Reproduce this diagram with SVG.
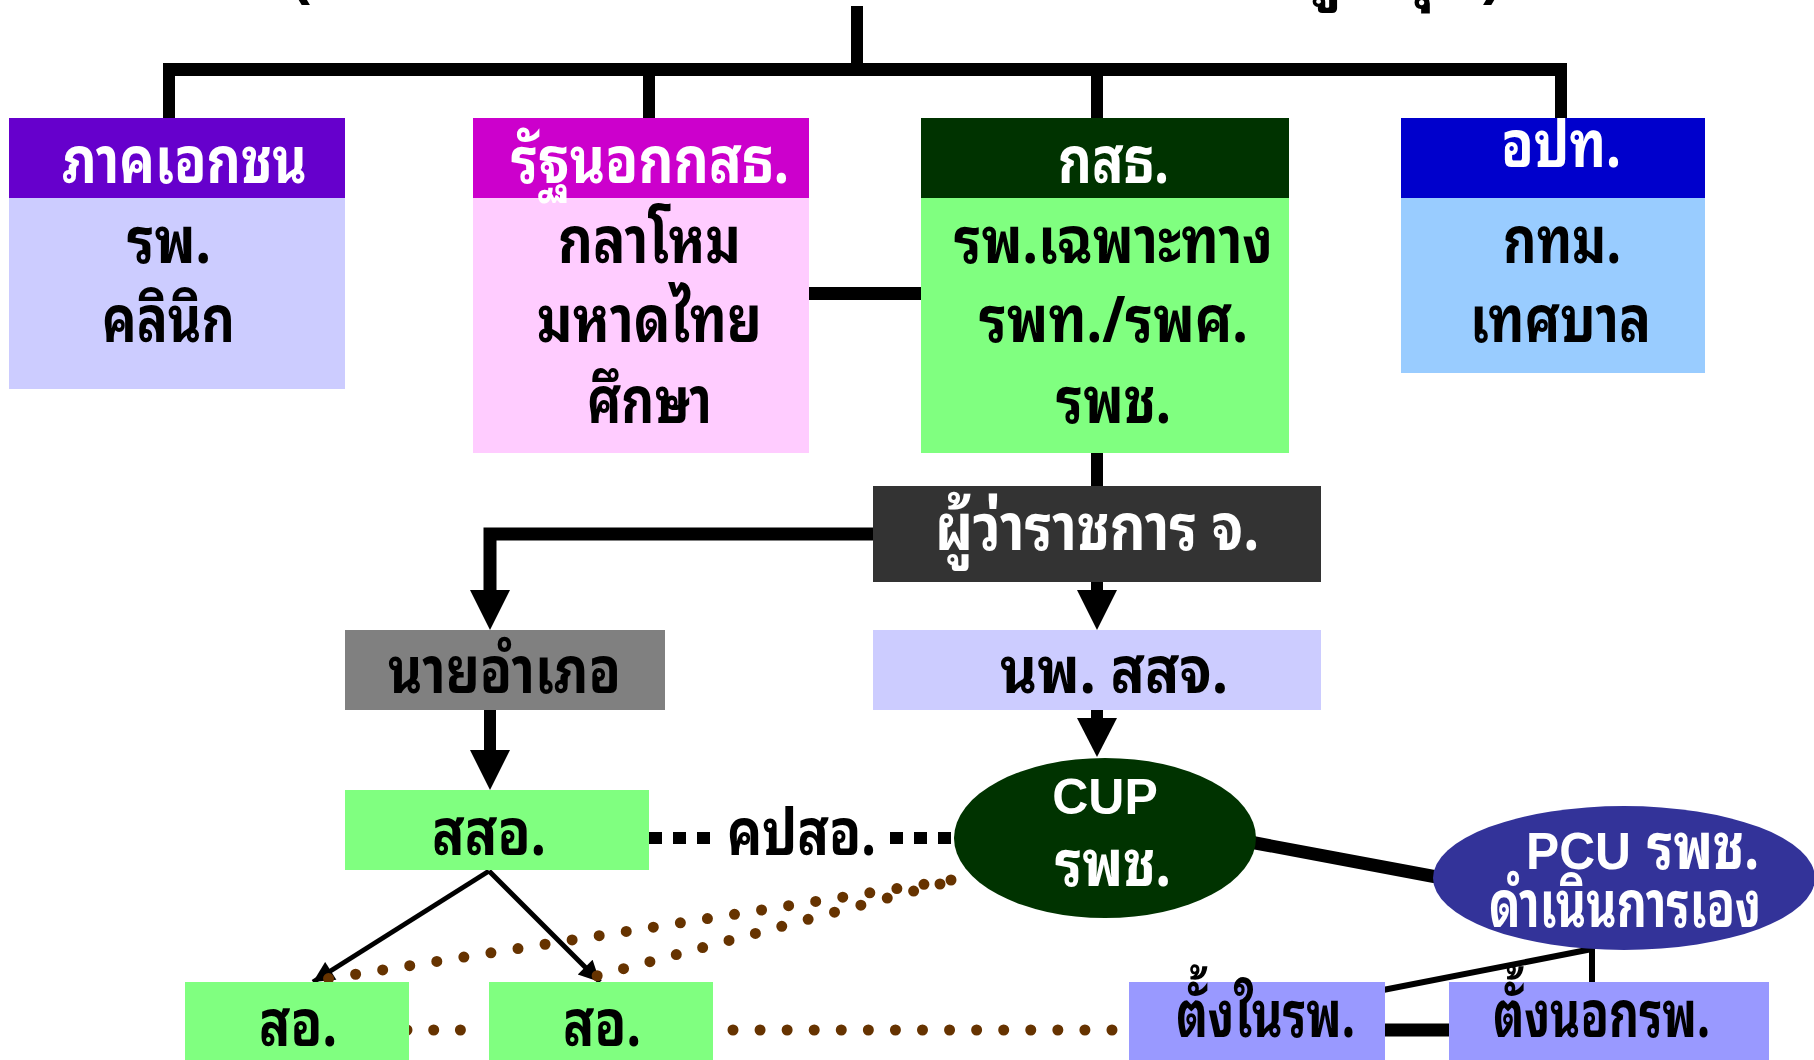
<svg xmlns="http://www.w3.org/2000/svg" width="1814" height="1060" viewBox="0 0 1814 1060">
<defs>
<style>
.th{font-family:"Noto Sans Thai Looped","Noto Serif Thai","Norasi","Loma","Garuda","Noto Sans Thai","DejaVu Sans",sans-serif;font-weight:bold;font-size:64px;}
.w{fill:#FFFFFF;}
.k{fill:#000000;}
.lat{font-family:"Liberation Sans",Arial,sans-serif;font-weight:bold;fill:#FFFFFF;}
.bar{stroke:#000;fill:none;}
.dot{stroke:#663300;stroke-width:11;stroke-linecap:round;fill:none;}
</style>
<marker id="ah" viewBox="0 0 10 10" refX="10" refY="5" markerWidth="4.6" markerHeight="4.2" markerUnits="strokeWidth" orient="auto">
<path d="M0,0 L10,5 L0,10 z" fill="#000"/>
</marker>
</defs>

<g id="title-fragment">
<text x="290" y="-7" font-family="Liberation Sans,sans-serif" font-weight="bold" font-size="60" fill="#000">(</text>
<text x="1483" y="-7" font-family="Liberation Sans,sans-serif" font-weight="bold" font-size="60" fill="#000">)</text>
<text class="th k" x="1300" y="-8" font-size="60">ภู</text>
<text class="th k" x="1392" y="-8" font-size="60">ปุ</text>
</g>

<g id="connectors">
<line class="bar" x1="857" y1="6" x2="857" y2="70" stroke-width="12"/>
<line class="bar" x1="163" y1="69.5" x2="1567" y2="69.5" stroke-width="13"/>
<line class="bar" x1="169" y1="70" x2="169" y2="120" stroke-width="12"/>
<line class="bar" x1="649" y1="70" x2="649" y2="120" stroke-width="12"/>
<line class="bar" x1="1097" y1="70" x2="1097" y2="120" stroke-width="12"/>
<line class="bar" x1="1561" y1="70" x2="1561" y2="120" stroke-width="12"/>
<line class="bar" x1="805" y1="293.5" x2="925" y2="293.5" stroke-width="13"/>
<line class="bar" x1="1097" y1="450" x2="1097" y2="490" stroke-width="12"/>
<path class="bar" d="M876,534 H490 V595" stroke-width="13"/>
<polygon points="470,590 510,590 490,630" fill="#000"/>
<line class="bar" x1="1097" y1="580" x2="1097" y2="595" stroke-width="12"/>
<polygon points="1077,590 1117,590 1097,630" fill="#000"/>
<line class="bar" x1="490" y1="708" x2="490" y2="755" stroke-width="12"/>
<polygon points="470,750 510,750 490,790" fill="#000"/>
<line class="bar" x1="1097" y1="708" x2="1097" y2="722" stroke-width="12"/>
<polygon points="1077,718 1117,718 1097,757" fill="#000"/>
<line x1="489" y1="871" x2="313" y2="982" stroke="#000" stroke-width="5" marker-end="url(#ah)"/>
<line x1="489" y1="871" x2="600" y2="982" stroke="#000" stroke-width="5" marker-end="url(#ah)"/>
<line x1="649" y1="838" x2="713" y2="838" stroke="#000" stroke-width="12" stroke-dasharray="13 11"/>
<line x1="890" y1="838" x2="954" y2="838" stroke="#000" stroke-width="12" stroke-dasharray="13 11"/>
<line class="bar" x1="1250" y1="842" x2="1442" y2="878" stroke-width="13"/>
<line class="bar" x1="1592" y1="945" x2="1592" y2="984" stroke-width="6"/>
<line class="bar" x1="1592" y1="949" x2="1383" y2="990" stroke-width="6"/>
<line class="bar" x1="1383" y1="1030" x2="1451" y2="1030" stroke-width="13"/>
<line class="dot" x1="951" y1="880" x2="313" y2="981" stroke-dasharray="0 27.4"/>
<line class="dot" x1="940" y1="884" x2="585" y2="979" stroke-dasharray="0 27.3"/>
<line class="dot" x1="407" y1="1030" x2="487" y2="1030" stroke-dasharray="0 26.7"/>
<line class="dot" x1="733" y1="1030" x2="1112" y2="1030" stroke-dasharray="0 27.07"/>
</g>

<g id="private">
<rect x="9" y="118" width="336" height="80" fill="#6600CC"/>
<rect x="9" y="198" width="336" height="191" fill="#CCCCFF"/>
<text class="th w" x="62" y="183" textLength="245" lengthAdjust="spacingAndGlyphs">ภาคเอกชน</text>
<text class="th k" x="127" y="263" textLength="84" lengthAdjust="spacingAndGlyphs">รพ.</text>
<text class="th k" x="102" y="342" textLength="133" lengthAdjust="spacingAndGlyphs">คลินิก</text>
</g>

<g id="state-other">
<rect x="473" y="118" width="336" height="80" fill="#CC00CC"/>
<rect x="473" y="198" width="336" height="255" fill="#FFCCFF"/>
<text class="th w" x="511" y="183" textLength="278" lengthAdjust="spacingAndGlyphs">รัฐนอกกสธ.</text>
<text class="th k" x="558" y="263" textLength="183" lengthAdjust="spacingAndGlyphs">กลาโหม</text>
<text class="th k" x="537" y="342" textLength="225" lengthAdjust="spacingAndGlyphs">มหาดไทย</text>
<text class="th k" x="587" y="423" textLength="125" lengthAdjust="spacingAndGlyphs">ศึกษา</text>
</g>

<g id="moph">
<rect x="921" y="118" width="368" height="80" fill="#003300"/>
<rect x="921" y="198" width="368" height="255" fill="#80FF80"/>
<text class="th w" x="1058" y="183" textLength="111" lengthAdjust="spacingAndGlyphs">กสธ.</text>
<text class="th k" x="954" y="263" textLength="319" lengthAdjust="spacingAndGlyphs">รพ.เฉพาะทาง</text>
<text class="th k" x="979" y="342" textLength="269" lengthAdjust="spacingAndGlyphs">รพท./รพศ.</text>
<text class="th k" x="1056" y="423" textLength="115" lengthAdjust="spacingAndGlyphs">รพช.</text>
</g>

<g id="local-gov">
<rect x="1401" y="118" width="304" height="80" fill="#0000CC"/>
<rect x="1401" y="198" width="304" height="175" fill="#99CCFF"/>
<text class="th w" x="1501" y="167" textLength="120" lengthAdjust="spacingAndGlyphs">อปท.</text>
<text class="th k" x="1503" y="263" textLength="118" lengthAdjust="spacingAndGlyphs">กทม.</text>
<text class="th k" x="1470" y="342" textLength="181" lengthAdjust="spacingAndGlyphs">เทศบาล</text>
</g>

<g id="governor">
<rect x="873" y="486" width="448" height="96" fill="#333333"/>
<text class="th w" x="935" y="550" textLength="324" lengthAdjust="spacingAndGlyphs">ผู้ว่าราชการ จ.</text>
</g>

<g id="district-chief">
<rect x="345" y="630" width="320" height="80" fill="#808080"/>
<text class="th k" x="388" y="693" textLength="233" lengthAdjust="spacingAndGlyphs">นายอำเภอ</text>
</g>

<g id="provincial-health">
<rect x="873" y="630" width="448" height="80" fill="#CCCCFF"/>
<text class="th k" x="1000" y="693" textLength="228" lengthAdjust="spacingAndGlyphs">นพ. สสจ.</text>
</g>

<g id="district-health">
<rect x="345" y="790" width="304" height="80" fill="#80FF80"/>
<text class="th k" x="432" y="855" textLength="114" lengthAdjust="spacingAndGlyphs">สสอ.</text>
</g>

<g id="kpso-label">
<text class="th k" x="727" y="855" font-weight="normal" textLength="149" lengthAdjust="spacingAndGlyphs">คปสอ.</text>
</g>

<g id="cup">
<ellipse cx="1105" cy="838" rx="151" ry="80" fill="#003300"/>
<text class="lat" x="1105" y="814" font-size="50" text-anchor="middle">CUP</text>
<text class="th w" x="1055" y="886" textLength="116" lengthAdjust="spacingAndGlyphs">รพช.</text>
</g>

<g id="pcu">
<ellipse cx="1624" cy="878" rx="191" ry="72" fill="#333399"/>
<text class="lat" x="1526" y="869" font-size="51" textLength="105" lengthAdjust="spacingAndGlyphs">PCU</text>
<text class="th w" x="1647" y="869" font-weight="normal" textLength="112" lengthAdjust="spacingAndGlyphs">รพช.</text>
<text class="th w" x="1489" y="927" font-size="48" textLength="272" lengthAdjust="spacingAndGlyphs">ดำเนินการเอง</text>
</g>

<g id="health-station-1">
<rect x="185" y="982" width="224" height="80" fill="#80FF80"/>
<text class="th k" x="259" y="1046" textLength="78" lengthAdjust="spacingAndGlyphs">สอ.</text>
</g>

<g id="health-station-2">
<rect x="489" y="982" width="224" height="80" fill="#80FF80"/>
<text class="th k" x="563" y="1046" textLength="78" lengthAdjust="spacingAndGlyphs">สอ.</text>
</g>

<g id="pcu-inside">
<rect x="1129" y="982" width="256" height="80" fill="#9999FF"/>
<text class="th k" x="1176" y="1037" textLength="179" lengthAdjust="spacingAndGlyphs">ตั้งในรพ.</text>
</g>

<g id="pcu-outside">
<rect x="1449" y="982" width="320" height="80" fill="#9999FF"/>
<text class="th k" x="1493" y="1037" textLength="217" lengthAdjust="spacingAndGlyphs">ตั้งนอกรพ.</text>
</g>
</svg>
